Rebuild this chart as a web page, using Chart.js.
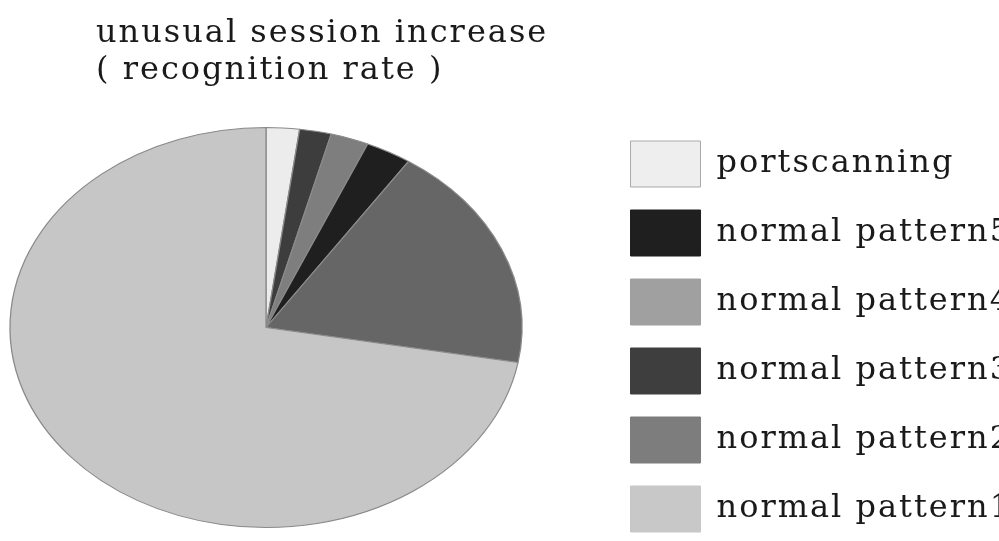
<!DOCTYPE html>
<html>
<head>
<meta charset="utf-8">
<title>unusual session increase</title>
<script src="https://cdn.jsdelivr.net/npm/chart.js@4.4.1/dist/chart.umd.min.js"></script>
<style>
  html, body { margin: 0; padding: 0; background: #fff; overflow: hidden; }
  #wrap { width: 999px; height: 541px; overflow: hidden; }
</style>
</head>
<body>
<div id="wrap"><canvas id="pieChart" width="1022" height="560"></canvas></div>
<script>
const titleLines = ["unusual session increase", "( recognition rate )"];
const labels = ["portscanning", "normal pattern5", "normal pattern4", "normal pattern3", "normal pattern2", "normal pattern1"];
const values = [2.1, 2.0, 2.4, 2.9, 18.4, 72.2];
const sliceColors = ["#ececec", "#3d3d3d", "#7e7e7e", "#1f1f1f", "#666666", "#c6c6c6"];
const legendColors = ["#eeeeee", "#1f1f1f", "#a0a0a0", "#3e3e3e", "#7d7d7d", "#c8c8c8"];

const serif = "'DejaVu Serif', 'Liberation Serif', serif";
const textColor = "#1a1a1a";
const textSpacing = "2px";
const stretchX = 1.28;
const pieTopInset = 9.5;

// wide letter spacing for every text the chart draws (legend is measured in layout)
const spacedText = {
  id: "spacedText",
  beforeLayout(chart) { chart.ctx.letterSpacing = textSpacing; },
  beforeDraw(chart) { chart.ctx.letterSpacing = textSpacing; }
};

// the pie is laid out as a circle, then widened into an ellipse set in the top-left of the chart area
const ellipsePie = {
  id: "ellipsePie",
  beforeDatasetsDraw(chart) {
    const arc = chart.getDatasetMeta(0).data[0];
    const area = chart.chartArea;
    const ctx = chart.ctx;
    ctx.save();
    ctx.translate(area.left + arc.outerRadius * stretchX, area.top + pieTopInset + arc.outerRadius);
    ctx.scale(stretchX, 1);
    ctx.translate(-arc.x, -arc.y);
  },
  afterDatasetsDraw(chart) {
    chart.ctx.restore();
  }
};

// two-line heading, left aligned above the pie
const heading = {
  id: "heading",
  afterDraw(chart) {
    const ctx = chart.ctx;
    ctx.save();
    ctx.fillStyle = textColor;
    ctx.font = "32px " + serif;
    ctx.letterSpacing = textSpacing;
    ctx.textAlign = "left";
    ctx.textBaseline = "alphabetic";
    titleLines.forEach((line, i) => ctx.fillText(line, 96, 42 + i * 37));
    ctx.restore();
  }
};

new Chart(document.getElementById("pieChart"), {
  type: "pie",
  data: {
    labels: labels,
    datasets: [{
      data: values,
      backgroundColor: sliceColors,
      borderColor: "#8a8a8a",
      borderWidth: 1,
      radius: 200
    }]
  },
  options: {
    responsive: false,
    animation: false,
    layout: { padding: { top: 118, left: 10, bottom: 0, right: 0 } },
    plugins: {
      tooltip: { enabled: false },
      legend: {
        position: "right",
        align: "start",
        labels: {
          boxWidth: 70,
          boxHeight: 46,
          padding: 23,
          color: textColor,
          font: { family: serif, size: 32 },
          generateLabels: () => labels.map((text, i) => ({
            text: text,
            fillStyle: legendColors[i],
            strokeStyle: i === 0 ? "#a9a9a9" : legendColors[i],
            lineWidth: 1,
            fontColor: textColor,
            hidden: false,
            index: i
          }))
        }
      }
    }
  },
  plugins: [spacedText, ellipsePie, heading]
});
</script>
</body>
</html>
